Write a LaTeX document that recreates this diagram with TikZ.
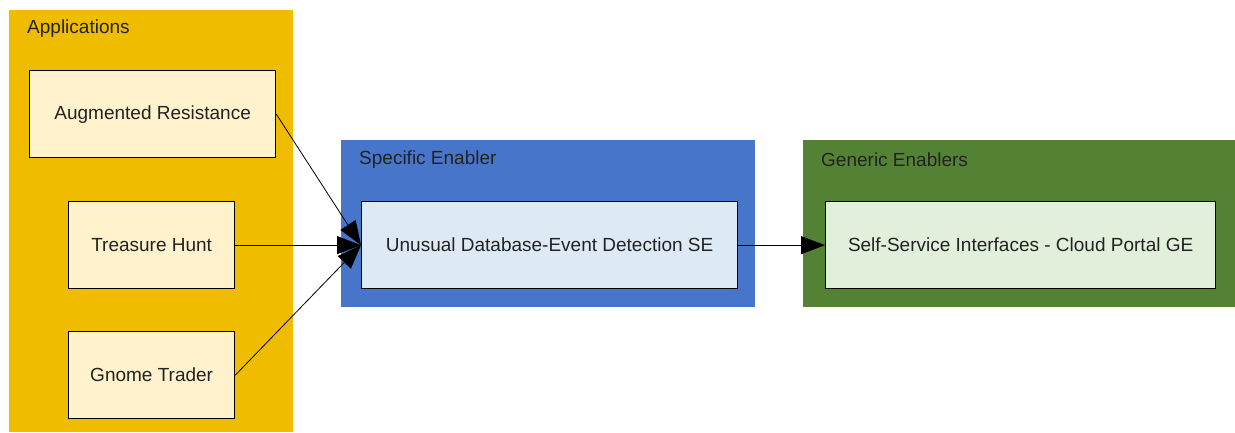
\documentclass[tikz,border=0pt]{standalone}
\usepackage{fontspec}
\setmainfont{Liberation Sans}
\usetikzlibrary{arrows.meta,positioning}
\definecolor{appbg}{HTML}{F0BC00}
\definecolor{sebg}{HTML}{4775CA}
\definecolor{gebg}{HTML}{548235}
\definecolor{appbox}{HTML}{FFF2CC}
\definecolor{sebox}{HTML}{DDEAF6}
\definecolor{gebox}{HTML}{E2EFDA}
\definecolor{txt}{HTML}{222222}
\tikzset{
  cluster/.style={draw=none, anchor=north west, inner sep=0pt},
  clabel/.style={anchor=west, font=\fontsize{19}{22}\selectfont, text=txt, inner sep=0pt},
  itembox/.style={draw=black, line width=1.3pt, anchor=north west, inner sep=0pt,
    font=\fontsize{19}{22}\selectfont, text=txt},
  link/.style={draw=black, line width=0.8pt, -{Triangle[length=24pt,width=18pt]}}
}
\begin{document}
\begin{tikzpicture}[x=1pt,y=-1pt]
  \useasboundingbox (0,0) rectangle (1235,433);
  % group backgrounds
  \node[cluster, fill=appbg, minimum width=284pt, minimum height=422pt] (apps) at (9,10) {};
  \node[cluster, fill=sebg, minimum width=414pt, minimum height=167pt] (se) at (341,140) {};
  \node[cluster, fill=gebg, minimum width=432pt, minimum height=167pt] (ge) at (803,140) {};
  % group titles
  \node[clabel] (appsl) at (27,29) {Applications};
  \node[clabel] (sel) at (359,160) {Specific Enabler};
  \node[clabel] (gel) at (821,160) {Generic Enablers};
  % application nodes
  \node[itembox, fill=appbox, minimum width=246pt, minimum height=87pt] (ar) at (29,70) {Augmented Resistance};
  \node[itembox, fill=appbox, minimum width=166pt, minimum height=87pt] (th) at (68,201) {Treasure Hunt};
  \node[itembox, fill=appbox, minimum width=166pt, minimum height=87pt] (gt) at (68,331) {Gnome Trader};
  % enabler nodes
  \node[itembox, fill=sebox, minimum width=376pt, minimum height=87pt] (ude) at (361,201) {Unusual Database-Event Detection SE};
  \node[itembox, fill=gebox, minimum width=390pt, minimum height=87pt] (ssi) at (825,201) {Self-Service Interfaces - Cloud Portal GE};
  % dependencies
  \draw[link] (ar.east) -- (ude.west);
  \draw[link] (th.east) -- (ude.west);
  \draw[link] (gt.east) -- (ude.west);
  \draw[link] (ude.east) -- (ssi.west);
\end{tikzpicture}
\end{document}
